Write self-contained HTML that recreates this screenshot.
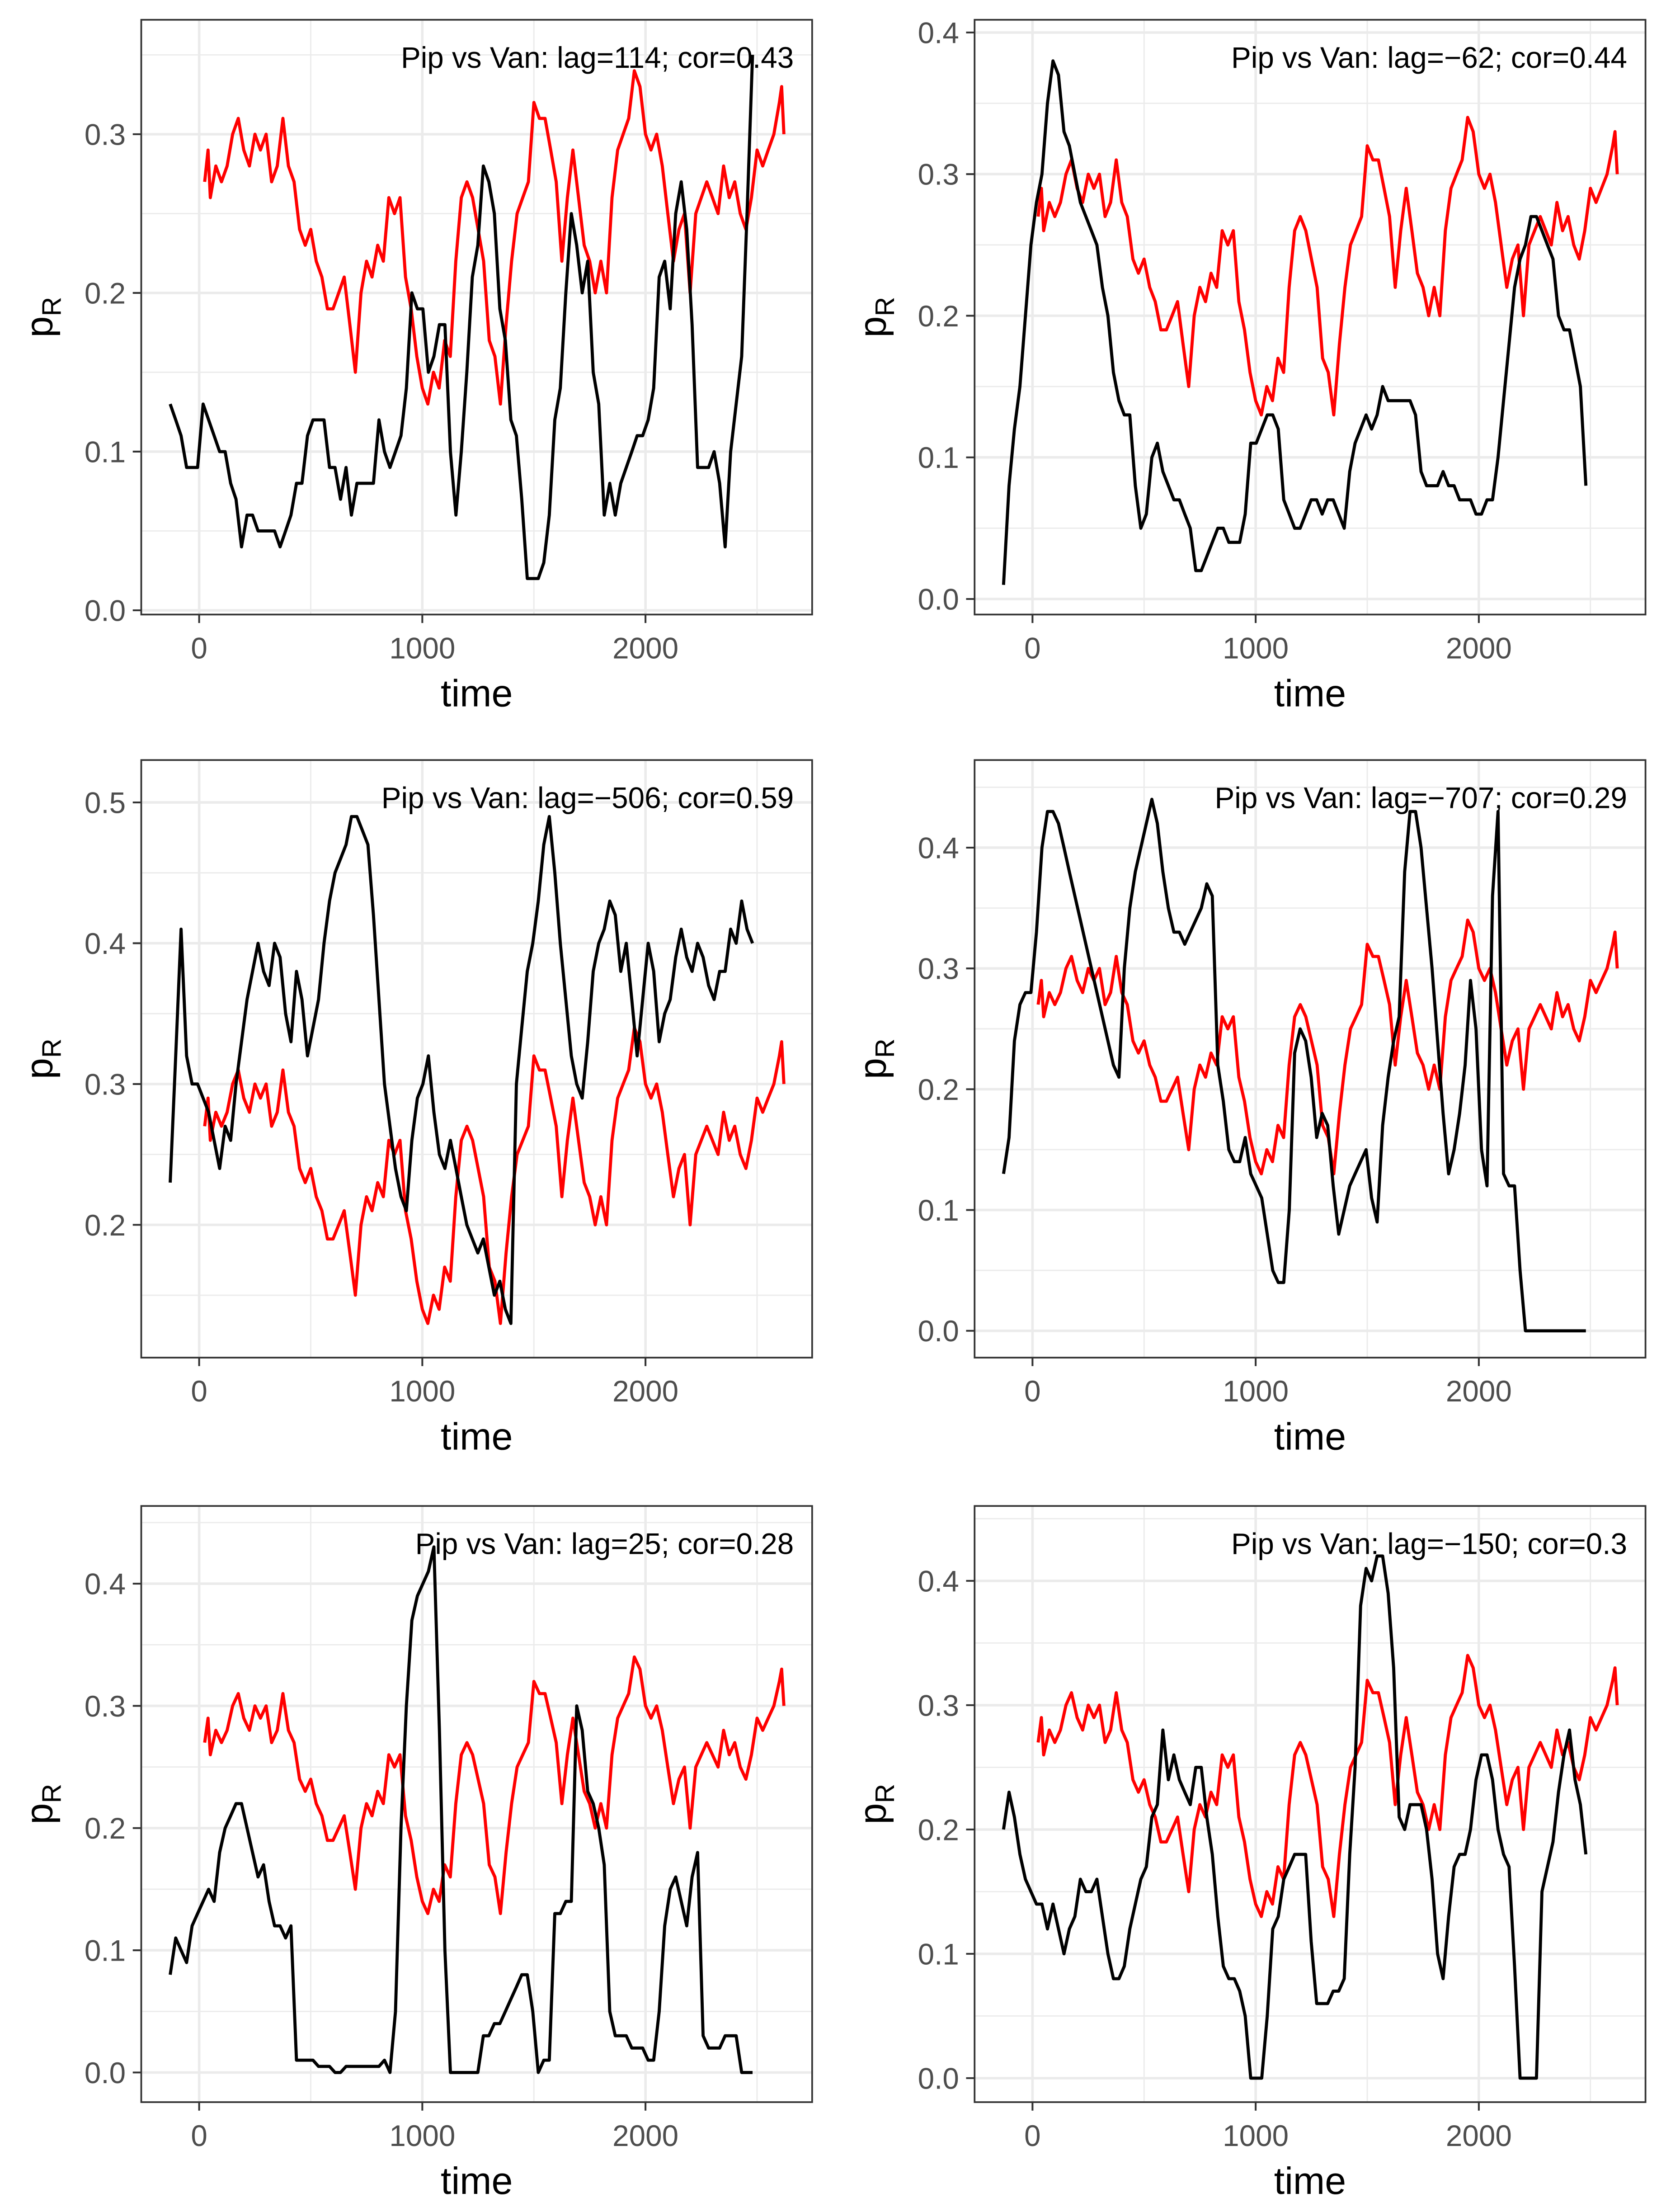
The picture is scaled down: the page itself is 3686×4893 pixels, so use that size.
<!DOCTYPE html>
<html><head><meta charset="utf-8"><style>
html,body{margin:0;padding:0;background:#fff;}
svg{display:block;}
text{font-family:"Liberation Sans",sans-serif;}
</style></head><body>
<svg id="fig" xmlns="http://www.w3.org/2000/svg" width="3686" height="4893" viewBox="0 0 1179.52 1565.76"></svg>
<script>
// Van (red) series, shared by all panels
const redT = [25,40,50,75,100,125,150,175,200,225,250,275,300,325,350,375,400,425,450,475,500,525,550,575,600,625,650,675,700,725,750,775,800,825,850,875,900,925,950,975,1000,1025,1050,1075,1100,1125,1150,1175,1200,1225,1250,1275,1300,1325,1350,1375,1400,1425,1450,1475,1500,1525,1550,1575,1600,1625,1650,1675,1700,1725,1750,1775,1800,1825,1850,1875,1900,1925,1950,1975,2000,2025,2050,2075,2100,2125,2150,2175,2200,2225,2250,2275,2300,2325,2350,2375,2400,2425,2450,2475,2500,2525,2550,2575,2600,2610,2620];
const redV = [0.27,0.29,0.26,0.28,0.27,0.28,0.30,0.31,0.29,0.28,0.30,0.29,0.30,0.27,0.28,0.31,0.28,0.27,0.24,0.23,0.24,0.22,0.21,0.19,0.19,0.20,0.21,0.18,0.15,0.20,0.22,0.21,0.23,0.22,0.26,0.25,0.26,0.21,0.19,0.16,0.14,0.13,0.15,0.14,0.17,0.16,0.22,0.26,0.27,0.26,0.24,0.22,0.17,0.16,0.13,0.18,0.22,0.25,0.26,0.27,0.32,0.31,0.31,0.29,0.27,0.22,0.26,0.29,0.26,0.23,0.22,0.20,0.22,0.20,0.26,0.29,0.30,0.31,0.34,0.33,0.30,0.29,0.30,0.28,0.25,0.22,0.24,0.25,0.20,0.25,0.26,0.27,0.26,0.25,0.28,0.26,0.27,0.25,0.24,0.26,0.29,0.28,0.29,0.30,0.32,0.33,0.30];
// Pip (black) series per panel, evenly sampled from blkStart to blkEnd
const blkStart = -130;
const blkEnd = 2480;
const blk1 = [0.13,0.12,0.11,0.09,0.09,0.09,0.13,0.12,0.11,0.10,0.10,0.08,0.07,0.04,0.06,0.06,0.05,0.05,0.05,0.05,0.04,0.05,0.06,0.08,0.08,0.11,0.12,0.12,0.12,0.09,0.09,0.07,0.09,0.06,0.08,0.08,0.08,0.08,0.12,0.10,0.09,0.10,0.11,0.14,0.20,0.19,0.19,0.15,0.16,0.18,0.18,0.10,0.06,0.10,0.15,0.21,0.23,0.28,0.27,0.25,0.19,0.17,0.12,0.11,0.07,0.02,0.02,0.02,0.03,0.06,0.12,0.14,0.20,0.25,0.23,0.20,0.22,0.15,0.13,0.06,0.08,0.06,0.08,0.09,0.10,0.11,0.11,0.12,0.14,0.21,0.22,0.19,0.25,0.27,0.24,0.18,0.09,0.09,0.09,0.10,0.08,0.04,0.10,0.13,0.16,0.25,0.35];
const blk2 = [0.01,0.08,0.12,0.15,0.20,0.25,0.28,0.30,0.35,0.38,0.37,0.33,0.32,0.30,0.28,0.27,0.26,0.25,0.22,0.20,0.16,0.14,0.13,0.13,0.08,0.05,0.06,0.10,0.11,0.09,0.08,0.07,0.07,0.06,0.05,0.02,0.02,0.03,0.04,0.05,0.05,0.04,0.04,0.04,0.06,0.11,0.11,0.12,0.13,0.13,0.12,0.07,0.06,0.05,0.05,0.06,0.07,0.07,0.06,0.07,0.07,0.06,0.05,0.09,0.11,0.12,0.13,0.12,0.13,0.15,0.14,0.14,0.14,0.14,0.14,0.13,0.09,0.08,0.08,0.08,0.09,0.08,0.08,0.07,0.07,0.07,0.06,0.06,0.07,0.07,0.10,0.14,0.18,0.22,0.24,0.25,0.27,0.27,0.26,0.25,0.24,0.20,0.19,0.19,0.17,0.15,0.08];
const blk3 = [0.23,0.32,0.41,0.32,0.30,0.30,0.29,0.28,0.26,0.24,0.27,0.26,0.30,0.33,0.36,0.38,0.40,0.38,0.37,0.40,0.39,0.35,0.33,0.38,0.36,0.32,0.34,0.36,0.40,0.43,0.45,0.46,0.47,0.49,0.49,0.48,0.47,0.42,0.36,0.30,0.27,0.24,0.22,0.21,0.26,0.29,0.30,0.32,0.28,0.25,0.24,0.26,0.24,0.22,0.20,0.19,0.18,0.19,0.17,0.15,0.16,0.14,0.13,0.30,0.34,0.38,0.40,0.43,0.47,0.49,0.45,0.40,0.36,0.32,0.30,0.29,0.33,0.38,0.40,0.41,0.43,0.42,0.38,0.40,0.36,0.32,0.36,0.40,0.38,0.33,0.35,0.36,0.39,0.41,0.39,0.38,0.40,0.39,0.37,0.36,0.38,0.38,0.41,0.40,0.43,0.41,0.40];
const blk4 = [0.13,0.16,0.24,0.27,0.28,0.28,0.33,0.40,0.43,0.43,0.42,0.40,0.38,0.36,0.34,0.32,0.30,0.28,0.26,0.24,0.22,0.21,0.30,0.35,0.38,0.40,0.42,0.44,0.42,0.38,0.35,0.33,0.33,0.32,0.33,0.34,0.35,0.37,0.36,0.22,0.19,0.15,0.14,0.14,0.16,0.13,0.12,0.11,0.08,0.05,0.04,0.04,0.10,0.23,0.25,0.24,0.21,0.16,0.18,0.17,0.12,0.08,0.10,0.12,0.13,0.14,0.15,0.11,0.09,0.17,0.21,0.24,0.26,0.38,0.43,0.43,0.40,0.35,0.30,0.24,0.18,0.13,0.15,0.18,0.22,0.29,0.25,0.15,0.12,0.36,0.43,0.13,0.12,0.12,0.05,0.0,0.0,0.0,0.0,0.0,0.0,0.0,0.0,0.0,0.0,0.0,0.0];
const blk5 = [0.08,0.11,0.10,0.09,0.12,0.13,0.14,0.15,0.14,0.18,0.20,0.21,0.22,0.22,0.20,0.18,0.16,0.17,0.14,0.12,0.12,0.11,0.12,0.01,0.01,0.01,0.01,0.005,0.005,0.005,0.0,0.0,0.005,0.005,0.005,0.005,0.005,0.005,0.005,0.01,0.0,0.05,0.20,0.30,0.37,0.39,0.40,0.41,0.43,0.28,0.10,0.0,0.0,0.0,0.0,0.0,0.0,0.03,0.03,0.04,0.04,0.05,0.06,0.07,0.08,0.08,0.05,0.0,0.01,0.01,0.13,0.13,0.14,0.14,0.30,0.28,0.23,0.22,0.20,0.17,0.05,0.03,0.03,0.03,0.02,0.02,0.02,0.01,0.01,0.05,0.12,0.15,0.16,0.14,0.12,0.16,0.18,0.03,0.02,0.02,0.02,0.03,0.03,0.03,0.0,0.0,0.0];
const blk6 = [0.20,0.23,0.21,0.18,0.16,0.15,0.14,0.14,0.12,0.14,0.12,0.10,0.12,0.13,0.16,0.15,0.15,0.16,0.13,0.10,0.08,0.08,0.09,0.12,0.14,0.16,0.17,0.21,0.22,0.28,0.24,0.26,0.24,0.23,0.22,0.25,0.25,0.21,0.18,0.13,0.09,0.08,0.08,0.07,0.05,0.00,0.00,0.00,0.05,0.12,0.13,0.16,0.17,0.18,0.18,0.18,0.11,0.06,0.06,0.06,0.07,0.07,0.08,0.18,0.25,0.38,0.41,0.40,0.42,0.42,0.39,0.33,0.21,0.20,0.22,0.22,0.22,0.20,0.16,0.10,0.08,0.13,0.17,0.18,0.18,0.20,0.24,0.26,0.26,0.24,0.20,0.18,0.17,0.09,0.00,0.00,0.00,0.00,0.15,0.17,0.19,0.23,0.26,0.28,0.24,0.22,0.18];
const labels = ["Pip vs Van: lag=114; cor=0.43","Pip vs Van: lag=\u221262; cor=0.44","Pip vs Van: lag=\u2212506; cor=0.59","Pip vs Van: lag=\u2212707; cor=0.29","Pip vs Van: lag=25; cor=0.28","Pip vs Van: lag=\u2212150; cor=0.3"];
const yTicks = [[0,0.1,0.2,0.3],[0,0.1,0.2,0.3,0.4],[0.2,0.3,0.4,0.5],[0,0.1,0.2,0.3,0.4],[0,0.1,0.2,0.3,0.4],[0,0.1,0.2,0.3,0.4]];
const xTicks = [0,1000,2000];
const blacks = [blk1,blk2,blk3,blk4,blk5,blk6];

const layout = [
 {l:100,r:575,t:14,b:435,va:0,pa:432,vb:0.3,pb:95},
 {l:690,r:1165,t:14,b:435,va:0,pa:424,vb:0.4,pb:23},
 {l:100,r:575,t:538,b:961,va:0.2,pa:867,vb:0.5,pb:568},
 {l:690,r:1165,t:538,b:961,va:0,pa:942,vb:0.4,pb:600},
 {l:100,r:575,t:1066,b:1488,va:0,pa:1467,vb:0.4,pb:1121},
 {l:690,r:1165,t:1066,b:1488,va:0,pa:1471,vb:0.4,pb:1119}
];
const NS="http://www.w3.org/2000/svg";
const svg=document.getElementById('fig');
function mk(tag,attrs,parent){const e=document.createElementNS(NS,tag);for(const k in attrs)e.setAttribute(k,attrs[k]);(parent||svg).appendChild(e);return e;}

layout.forEach((L,i)=>{
  const g=mk('g',{});
  
  
  const x0=L.l+(141-100); const xs=(457-141)/2000;
  const X=t=>x0+t*xs;
  const ys=(L.pa-L.pb)/(L.vb-L.va);
  const Y=v=>L.pa-(v-L.va)*ys;
  mk('rect',{x:L.l,y:L.t,width:L.r-L.l,height:L.b-L.t,fill:'#fff'},g);
  for(let t=-500;t<=3000;t+=1000){const px=X(t);if(px>L.l&&px<L.r){const ln=mk('line',{x1:px,x2:px,y1:L.t,y2:L.b,stroke:'#ebebeb','stroke-width':0.9},g);}}
  for(let v=-0.05;v<=0.6;v+=0.1){const py=Y(v);if(py>L.t&&py<L.b){const ln=mk('line',{x1:L.l,x2:L.r,y1:py,y2:py,stroke:'#ebebeb','stroke-width':0.9},g);}}
  xTicks.forEach(t=>{const ln=mk('line',{x1:X(t),x2:X(t),y1:L.t,y2:L.b,stroke:'#ebebeb','stroke-width':1.8},g);});
  yTicks[i].forEach(v=>{const ln=mk('line',{x1:L.l,x2:L.r,y1:Y(v),y2:Y(v),stroke:'#ebebeb','stroke-width':1.8},g);});
  const rp=redT.map((t,k)=>X(t).toFixed(1)+','+Y(redV[k]).toFixed(1)).join(' ');
  const red=mk('polyline',{points:rp,fill:'none',stroke:'#ff0000','stroke-width':2.2,'stroke-linejoin':'round'},g);
  
  
  const bv=blacks[i];
  const n=bv.length;
  const bp=bv.map((v,k)=>X(blkStart+k*(blkEnd-blkStart)/(n-1)).toFixed(1)+','+Y(v).toFixed(1)).join(' ');
  const blk=mk('polyline',{points:bp,fill:'none',stroke:'#000','stroke-width':2.2,'stroke-linejoin':'round'},g);
  
  
  const bd=mk('rect',{x:L.l,y:L.t,width:L.r-L.l,height:L.b-L.t,fill:'none',stroke:'#333','stroke-width':1.2},g);
  
  
  xTicks.forEach(t=>{
    mk('line',{x1:X(t),x2:X(t),y1:L.b,y2:L.b+6,stroke:'#333','stroke-width':1.3},g);
    const tx=mk('text',{x:X(t),y:L.b+31,'text-anchor':'middle','font-size':21,fill:'#4d4d4d'},g);
    tx.textContent=String(t);
    
    
  });
  yTicks[i].forEach(v=>{
    mk('line',{x1:L.l-6,x2:L.l,y1:Y(v),y2:Y(v),stroke:'#333','stroke-width':1.3},g);
    const tx=mk('text',{x:L.l-11,y:Y(v)+7.5,'text-anchor':'end','font-size':21,fill:'#4d4d4d'},g);
    tx.textContent=v.toFixed(1);
    
    
  });
  const xt=mk('text',{x:(L.l+L.r)/2,y:L.b+65,'text-anchor':'middle','font-size':27,fill:'#000'},g);
  xt.textContent='time';
  
  
  const cy=(L.t+L.b)/2;
  const yt=mk('text',{x:0,y:0,'font-size':27,fill:'#000',transform:`translate(${L.l-63},${cy}) rotate(-90)`,'text-anchor':'middle'},g);
  
  
  const s1=mk('tspan',{},yt); s1.textContent='p';
  const s2=mk('tspan',{'font-size':19,dy:6}); yt.appendChild(s2); s2.textContent='R';
  const an=mk('text',{x:L.r-13,y:L.t+34,'text-anchor':'end','font-size':21,fill:'#000'},g);
  an.textContent=labels[i];
  
  
});
</script>
</body></html>
